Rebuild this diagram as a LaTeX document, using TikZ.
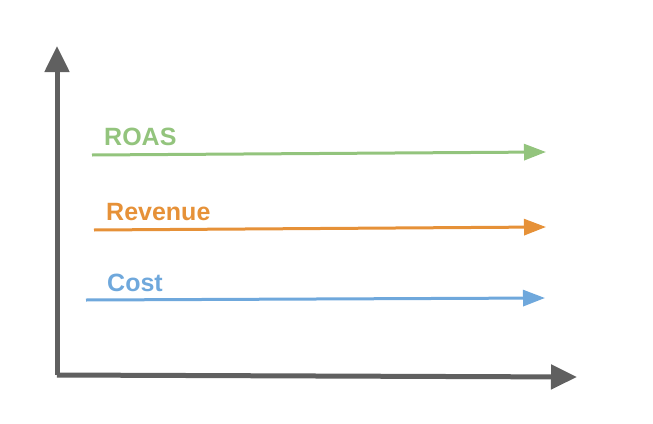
\documentclass[tikz,border=0pt]{standalone}
\usepackage{fontspec}
\setmainfont{Liberation Sans}
\usetikzlibrary{arrows.meta}
\definecolor{ax}{HTML}{606060}
\definecolor{cg}{HTML}{93C47D}
\definecolor{co}{HTML}{E69138}
\definecolor{cb}{HTML}{6FA8DC}
\begin{document}
\begin{tikzpicture}[x=1pt,y=-1pt,
  axis/.style={ax,line width=5pt,-{Triangle[length=26pt,width=24pt]}},
  series/.style={line width=3pt,-{Triangle[length=22pt,width=16pt]}},
  lbl/.style={font=\fontsize{25}{25}\selectfont\bfseries,anchor=base west,inner sep=0}]
\useasboundingbox (0,0) rectangle (653,423);
\coordinate (o) at (57,375);
\coordinate (ytop) at (57,46);
\coordinate (xend) at (577,377);
\draw[axis] (o) -- (ytop);
\draw[axis] (o) -- (xend);
\coordinate (g1) at (92,155); \coordinate (g2) at (546,152);
\coordinate (r1) at (94,230); \coordinate (r2) at (546,227);
\coordinate (b1) at (86,300); \coordinate (b2) at (545,298);
\draw[series,cg] (g1) -- (g2);
\draw[series,co] (r1) -- (r2);
\draw[series,cb] (b1) -- (b2);
\node[lbl,text=cg] (tg) at (104,145) {ROAS};
\node[lbl,text=co] (tr) at (106,220) {Revenue};
\node[lbl,text=cb] (tb) at (107,291) {Cost};
\end{tikzpicture}
\end{document}
